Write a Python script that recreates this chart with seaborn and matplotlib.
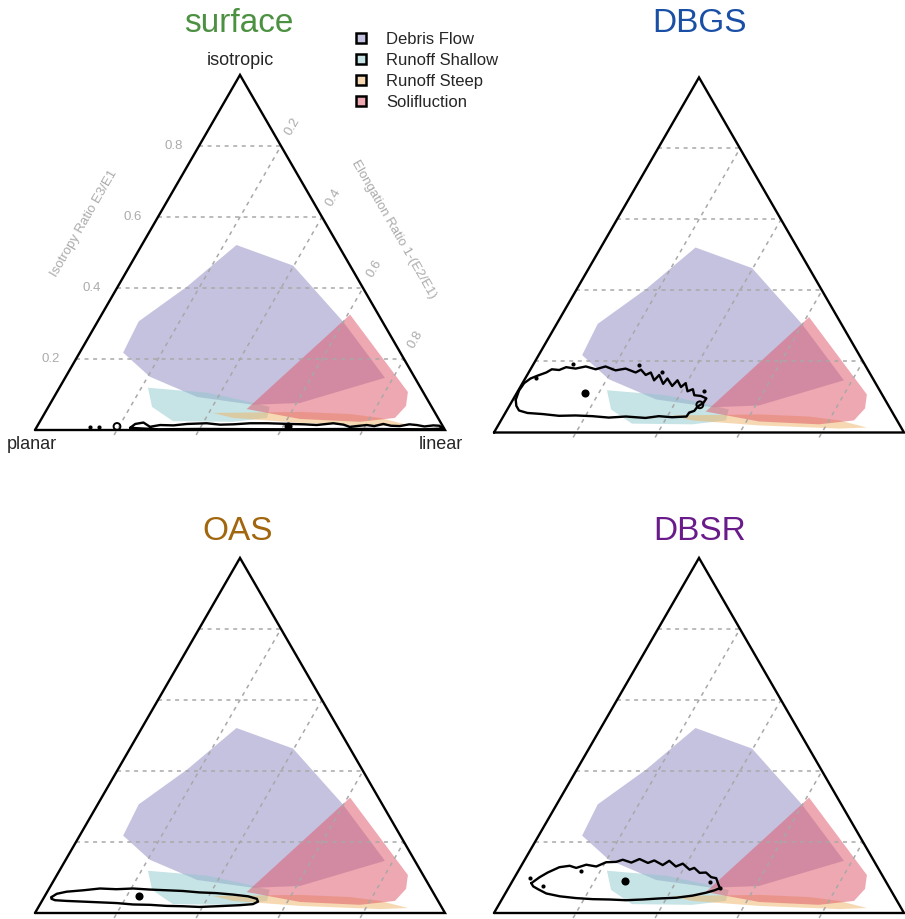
import numpy as np
import pandas as pd
import matplotlib
matplotlib.use("Agg")
import matplotlib.pyplot as plt
from matplotlib.colors import to_rgba
from matplotlib.patches import Patch
import seaborn as sns

sns.set_style("white")
plt.rcParams["font.family"] = ["Liberation Sans", "DejaVu Sans"]

# ---------------------------------------------------------------
# Fabric shape fields (Elongation E = 1 - E2/E1, Isotropy I = E3/E1)
# ---------------------------------------------------------------
region_names = ["Debris Flow", "Runoff Shallow", "Runoff Steep", "Solifluction"]
region_colors = ["#8B87C0", "#8FC8CD", "#EEB466", "#E0586A"]
region_alpha = [0.5, 0.5, 0.5, 0.52]

debris_E = [0.106, 0.100, 0.169, 0.231, 0.398, 0.599, 0.780, 0.608, 0.497, 0.349, 0.205]
debris_I = [0.218, 0.306, 0.404, 0.521, 0.463, 0.305, 0.147, 0.076, 0.071, 0.093, 0.150]

shallow_E = [0.216, 0.367, 0.458, 0.540, 0.549, 0.472, 0.324, 0.253]
shallow_I = [0.119, 0.105, 0.085, 0.065, 0.034, 0.023, 0.025, 0.065]

steep_E = [0.410, 0.621, 0.746, 0.825, 0.903, 0.836, 0.636, 0.466]
steep_I = [0.048, 0.051, 0.045, 0.034, 0.014, 0.011, 0.020, 0.034]

solif_E = [0.606, 0.856, 0.871, 0.861, 0.781, 0.631, 0.487]
solif_I = [0.325, 0.107, 0.068, 0.034, 0.023, 0.031, 0.059]

region_E = [debris_E, shallow_E, steep_E, solif_E]
region_I = [debris_I, shallow_I, steep_I, solif_I]

# ---------------------------------------------------------------
# Sample density contours, modes and stray contour specks
# ---------------------------------------------------------------
surface_E = [0.229, 0.236, 0.254, 0.276, 0.298, 0.331, 0.362, 0.409, 0.444, 0.476,
             0.515, 0.556, 0.614, 0.648, 0.680, 0.718, 0.745, 0.763, 0.802, 0.822,
             0.841, 0.862, 0.884, 0.905, 0.924, 0.945, 0.965, 0.980, 0.994,
             0.950, 0.800, 0.600, 0.400, 0.300, 0.229]
surface_I = [0.006, 0.017, 0.021, 0.009, 0.014, 0.013, 0.017, 0.019, 0.015, 0.016,
             0.019, 0.019, 0.017, 0.016, 0.014, 0.019, 0.015, 0.009, 0.014, 0.011,
             0.017, 0.012, 0.011, 0.016, 0.014, 0.010, 0.013, 0.012, 0.004,
             0.002, 0.003, 0.002, 0.003, 0.002, 0.006]
surface_mode = (0.612, 0.011)
surface_specks_E = [0.130, 0.152]
surface_specks_I = [0.0075, 0.0075]
surface_loops_E = [0.195]
surface_loops_I = [0.010]

dbgs_E = [0.007, 0.002, 0.004, 0.013, 0.026, 0.043, 0.052, 0.071, 0.084, 0.109,
          0.131, 0.159, 0.179, 0.209, 0.231, 0.261, 0.270, 0.289, 0.298, 0.317,
          0.322, 0.344, 0.347, 0.369, 0.374, 0.392, 0.398, 0.414, 0.424, 0.436,
          0.453, 0.470, 0.469, 0.460, 0.458, 0.448, 0.447, 0.413, 0.379, 0.349,
          0.299, 0.259, 0.217, 0.175, 0.135, 0.092, 0.054, 0.030, 0.017, 0.007]
dbgs_I = [0.092, 0.118, 0.139, 0.152, 0.160, 0.169, 0.178, 0.176, 0.184, 0.180,
          0.186, 0.178, 0.186, 0.175, 0.180, 0.169, 0.177, 0.162, 0.169, 0.147,
          0.162, 0.137, 0.152, 0.131, 0.147, 0.128, 0.139, 0.116, 0.122, 0.105,
          0.103, 0.096, 0.083, 0.073, 0.061, 0.056, 0.045, 0.043, 0.046, 0.041,
          0.045, 0.042, 0.046, 0.048, 0.047, 0.052, 0.055, 0.062, 0.075, 0.092]
dbgs_mode = (0.167, 0.111)
dbgs_specks_E = [0.095, 0.259, 0.326, 0.455, 0.025]
dbgs_specks_I = [0.193, 0.189, 0.169, 0.116, 0.153]
dbgs_loops_E = [0.463]
dbgs_loops_I = [0.078]

oas_E = [0.018, 0.026, 0.047, 0.086, 0.124, 0.165, 0.205, 0.247, 0.289, 0.330,
         0.372, 0.414, 0.456, 0.496, 0.521, 0.528, 0.519, 0.488, 0.433, 0.393,
         0.352, 0.311, 0.269, 0.227, 0.185, 0.143, 0.102, 0.060, 0.031, 0.020, 0.018]
oas_I = [0.045, 0.054, 0.060, 0.064, 0.069, 0.067, 0.069, 0.066, 0.064, 0.062,
         0.058, 0.056, 0.052, 0.047, 0.040, 0.032, 0.025, 0.022, 0.019, 0.017,
         0.019, 0.020, 0.023, 0.024, 0.028, 0.030, 0.032, 0.034, 0.036, 0.040, 0.045]
oas_mode = (0.230, 0.049)

dbsr_E = [0.049, 0.061, 0.074, 0.095, 0.118, 0.137, 0.157, 0.184, 0.202, 0.226,
          0.239, 0.264, 0.279, 0.305, 0.317, 0.344, 0.354, 0.378, 0.391, 0.416,
          0.425, 0.445, 0.460, 0.479, 0.493, 0.505, 0.516, 0.506, 0.488, 0.460,
          0.423, 0.383, 0.344, 0.304, 0.263, 0.221, 0.179, 0.137, 0.100, 0.074,
          0.058, 0.049]
dbsr_I = [0.084, 0.101, 0.114, 0.129, 0.133, 0.127, 0.136, 0.131, 0.143, 0.144,
          0.150, 0.142, 0.152, 0.141, 0.148, 0.135, 0.147, 0.131, 0.139, 0.122,
          0.127, 0.113, 0.114, 0.101, 0.098, 0.083, 0.070, 0.064, 0.057, 0.049,
          0.043, 0.041, 0.038, 0.036, 0.038, 0.039, 0.042, 0.047, 0.055, 0.067,
          0.075, 0.084]
dbsr_mode = (0.276, 0.089)
dbsr_specks_E = [0.039, 0.154, 0.081, 0.484, 0.516]
dbsr_specks_I = [0.098, 0.117, 0.077, 0.086, 0.070]

panel_titles = ["surface", "DBGS", "OAS", "DBSR"]
title_colors = ["#4C9141", "#1A4FA6", "#A1660E", "#6A1B8A"]
contour_E = [surface_E, dbgs_E, oas_E, dbsr_E]
contour_I = [surface_I, dbgs_I, oas_I, dbsr_I]
modes = [surface_mode, dbgs_mode, oas_mode, dbsr_mode]
specks_E = [surface_specks_E, dbgs_specks_E, [], dbsr_specks_E]
specks_I = [surface_specks_I, dbgs_specks_I, [], dbsr_specks_I]
loops_E = [surface_loops_E, dbgs_loops_E, [], []]
loops_I = [surface_loops_I, dbgs_loops_I, [], []]

grid_levels = [0.2, 0.4, 0.6, 0.8]
grid_labels = ["0.2", "0.4", "0.6", "0.8"]

# ---------------------------------------------------------------
SQ = np.sqrt(3) / 2


def to_xy(E, I):
    E = np.asarray(E, dtype=float)
    I = np.asarray(I, dtype=float)
    return E + 0.5 * I, I * SQ


W, H = 905, 919
S = 410          # pixels per unit of triangle base
PAD = 0.1
# base-left corner of each triangle in pixels
origins = [(35, 430), (494, 432.5), (35, 913), (494, 913)]
title_pos = [(239, 32), (699, 32), (238, 540), (700, 540)]

fig = plt.figure(figsize=(W / 100, H / 100), dpi=100)

grid_kw = dict(color="#A8A8A8", lw=1.1, ls=(0, (2.6, 3.0)), zorder=3)
tick_color = "#ABABAB"

for k in range(4):
    x0, yb = origins[k]
    rect = [(x0 - PAD * S) / W, (H - yb - PAD * S) / H,
            (1 + 2 * PAD) * S / W, (SQ + 2 * PAD) * S / H]
    ax = fig.add_axes(rect)
    ax.set_xlim(-PAD, 1 + PAD)
    ax.set_ylim(-PAD, SQ + PAD)
    ax.axis("off")

    # shaded process fields
    for name, col, a, e, i in zip(region_names, region_colors, region_alpha,
                                  region_E, region_I):
        x, y = to_xy(e, i)
        ax.fill(x, y, color=col, alpha=a, lw=0, zorder=2)

    # isotropy grid (horizontal) and elongation grid (parallel to planar edge)
    for v in grid_levels:
        x, y = to_xy([0, 1 - v], [v, v])
        ax.plot(x, y, **grid_kw)
        x, y = to_xy([v, v], [-0.014, 1 - v])
        ax.plot(x, y, **grid_kw)

    # triangle frame
    x, y = to_xy([0, 1, 0, 0], [0, 0, 1, 0])
    ax.plot(x, y, color="black", lw=1.7, zorder=5, solid_joinstyle="miter")

    # sample density contour
    x, y = to_xy(contour_E[k], contour_I[k])
    df = pd.DataFrame({"x": x, "y": y})
    sns.lineplot(data=df, x="x", y="y", sort=False, estimator=None, color="black",
                 lw=1.7, ax=ax, legend=False, zorder=6)
    if specks_E[k]:
        x, y = to_xy(specks_E[k], specks_I[k])
        sns.scatterplot(x=x, y=y, s=9, color="black", linewidth=0, ax=ax,
                        legend=False, zorder=6)
    if loops_E[k]:
        x, y = to_xy(loops_E[k], loops_I[k])
        ax.scatter(x, y, s=24, facecolor="none", edgecolor="black", lw=1.4, zorder=6)
    mx, my = to_xy([modes[k][0]], [modes[k][1]])
    sns.scatterplot(x=mx, y=my, s=34, color="black", linewidth=0, ax=ax,
                    legend=False, zorder=7)
    ax.set_xlabel("")
    ax.set_ylabel("")

    tx, ty = title_pos[k]
    fig.text(tx / W, 1 - ty / H, panel_titles[k], color=title_colors[k],
             fontsize=24, ha="center", va="baseline")

    if k == 0:
        # corner names
        fig.text(240 / W, 1 - 65 / H, "isotropic", fontsize=13, ha="center", va="baseline")
        fig.text(7 / W, 1 - 449 / H, "planar", fontsize=13, ha="left", va="baseline")
        fig.text(463 / W, 1 - 449 / H, "linear", fontsize=13, ha="right", va="baseline")
        # isotropy tick labels
        for v, lab in zip(grid_levels, grid_labels):
            x, y = to_xy([0], [v])
            ax.text(x[0] - 0.061, y[0], lab, color=tick_color, fontsize=9.5,
                    ha="center", va="center")
        # elongation tick labels
        for v, lab in zip(grid_levels, grid_labels):
            x, y = to_xy([v], [1 - v])
            ax.text(x[0] + 0.029, y[0] + 0.047, lab, color=tick_color, fontsize=9.5,
                    ha="center", va="center", rotation=60, rotation_mode="anchor")
        ax.text((84 - x0) / S, (yb - 223) / S, "Isotropy Ratio E3/E1", color=tick_color,
                fontsize=9.5, ha="center", va="center", rotation=60)
        ax.text((394 - x0) / S, (yb - 229) / S, "Elongation Ratio 1-(E2/E1)",
                color=tick_color, fontsize=9.5, ha="center", va="center", rotation=-60)

handles = [Patch(facecolor=to_rgba(c, a), edgecolor="black", lw=1.8)
           for c, a in zip(region_colors, region_alpha)]
fig.legend(handles, region_names, loc="upper left",
           bbox_to_anchor=(356 / W, 1 - 32 / H), frameon=False, fontsize=12,
           handlelength=0.6, handleheight=0.55, handletextpad=1.2,
           labelspacing=0.36, borderpad=0, borderaxespad=0)

fig.savefig("out.png", dpi=100)
